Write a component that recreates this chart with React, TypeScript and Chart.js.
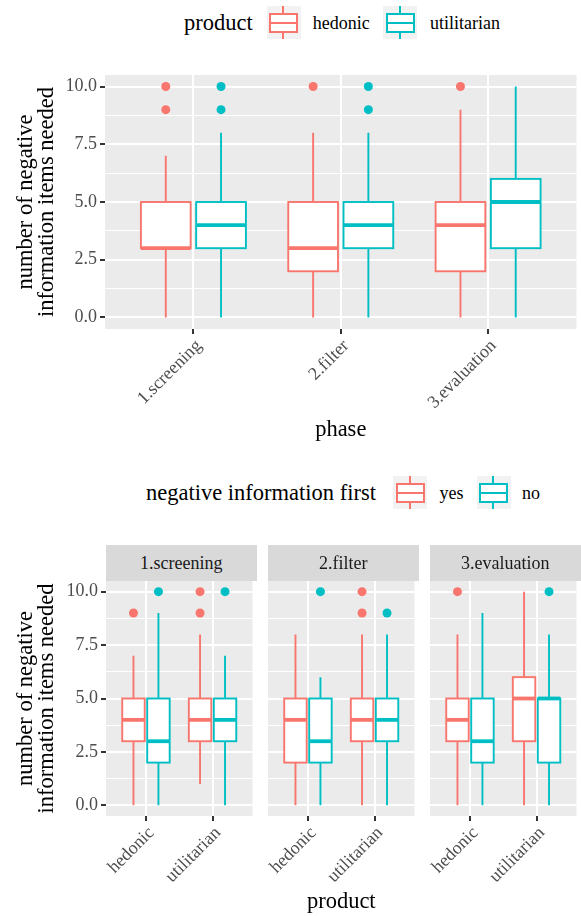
import React, { useEffect, useRef } from "react";
import { Chart, registerables } from "chart.js";

Chart.register(...registerables);

const FONT = "'Liberation Serif', 'Times New Roman', serif";
const RED = "#F8766D";
const TEAL = "#00BFC4";

// ---------- data ----------
const phases = ["1.screening", "2.filter", "3.evaluation"];
const products = ["hedonic", "utilitarian"];
const negFirst = ["yes", "no"];
const yTickValues = [0, 1.25, 2.5, 3.75, 5, 6.25, 7.5, 8.75, 10];
const yTitle = ["number of negative", "information items needed"];

// top chart: [lower whisker, Q1, median, Q3, upper whisker] per phase
const hedonicStats = [
  [0, 3, 3, 5, 7],
  [0, 2, 3, 5, 8],
  [0, 2, 4, 5, 9],
];
const utilitarianStats = [
  [0, 3, 4, 5, 8],
  [0, 3, 4, 5, 8],
  [0, 3, 5, 6, 10],
];
const hedonicOutliers = [[9, 10], [10], [10]];
const utilitarianOutliers = [[9, 10], [9, 10], []];

// bottom chart: per phase -> per product [hedonic, utilitarian]
const yesStats = [
  [[0, 3, 4, 5, 7], [1, 3, 4, 5, 8]],
  [[0, 2, 4, 5, 8], [0, 3, 4, 5, 8]],
  [[0, 3, 4, 5, 8], [0, 3, 5, 6, 10]],
];
const noStats = [
  [[0, 2, 3, 5, 9], [0, 3, 4, 5, 7]],
  [[0, 2, 3, 5, 6], [0, 3, 4, 5, 8]],
  [[0, 2, 3, 5, 9], [0, 2, 5, 5, 8]],
];
const yesOutliers = [
  [[9], [9, 10]],
  [[], [9, 10]],
  [[10], []],
];
const noOutliers = [
  [[10], [10]],
  [[10], [9]],
  [[], [10]],
];

// ---------- helpers ----------
const BOX_W = 0.3375;
const DODGE = 0.1875;

type Box = { x: number; s: number[]; color: string };

function boxPlugin(boxes: Box[]) {
  return {
    id: "boxes",
    beforeDatasetsDraw(chart: any) {
      const { ctx } = chart;
      const x = chart.scales.x;
      const y = chart.scales.y;
      ctx.save();
      boxes.forEach((b) => {
        const cx = x.getPixelForValue(b.x);
        const l = x.getPixelForValue(b.x - BOX_W / 2);
        const r = x.getPixelForValue(b.x + BOX_W / 2);
        const [lo, q1, med, q3, hi] = b.s.map((v) => y.getPixelForValue(v));
        ctx.strokeStyle = b.color;
        ctx.lineWidth = 1.9;
        ctx.beginPath();
        ctx.moveTo(cx, q3);
        ctx.lineTo(cx, hi);
        ctx.moveTo(cx, q1);
        ctx.lineTo(cx, lo);
        ctx.stroke();
        ctx.fillStyle = "#FFFFFF";
        ctx.fillRect(l, q3, r - l, q1 - q3);
        ctx.strokeRect(l, q3, r - l, q1 - q3);
        ctx.lineWidth = 3.8;
        ctx.beginPath();
        ctx.moveTo(l, med);
        ctx.lineTo(r, med);
        ctx.stroke();
      });
      ctx.restore();
    },
  };
}

const bgPlugin = {
  id: "panelBg",
  beforeDraw(chart: any) {
    const { ctx, chartArea: a } = chart;
    ctx.save();
    ctx.fillStyle = "#EBEBEB";
    ctx.fillRect(a.left, a.top, a.right - a.left, a.bottom - a.top);
    ctx.restore();
  },
};

const isMajor = (v: number) => Math.abs(v / 2.5 - Math.round(v / 2.5)) < 1e-6;

function yScale(width: number, showLabels: boolean, title?: string[]) {
  return {
    type: "linear",
    min: -0.5,
    max: 10.5,
    afterBuildTicks: (s: any) => {
      s.ticks = yTickValues.map((v) => ({ value: v }));
    },
    afterFit: (s: any) => {
      s.width = width;
      s.paddingTop = 0;
      s.paddingBottom = 0;
    },
    border: { display: false },
    grid: {
      color: "#FFFFFF",
      lineWidth: (c: any) => (c.tick && isMajor(c.tick.value) ? 2 : 1),
      drawTicks: showLabels,
      tickLength: 5,
      tickWidth: 2,
      tickColor: (c: any) => (c.tick && isMajor(c.tick.value) ? "#333333" : "rgba(0,0,0,0)"),
    },
    ticks: {
      display: showLabels,
      padding: 3,
      color: "#4D4D4D",
      font: { family: FONT, size: 18 },
      callback: (v: number) => (isMajor(v) ? v.toFixed(1) : ""),
    },
    title: title
      ? {
          display: true,
          text: title,
          color: "#000000",
          font: { family: FONT, size: 22.5, lineHeight: 0.9 },
          padding: { top: 16.4, bottom: 0 },
        }
      : { display: false },
  };
}

function xScale(labels: string[], height: number, title?: string, titlePad = 0) {
  return {
    type: "linear",
    bounds: "data",
    min: 0.4,
    max: labels.length + 0.6,
    afterBuildTicks: (s: any) => {
      s.ticks = labels.map((_, i) => ({ value: i + 1 }));
    },
    afterFit: (s: any) => {
      s.height = height;
      s.paddingLeft = 0;
      s.paddingRight = 0;
    },
    border: { display: false },
    grid: {
      color: "#FFFFFF",
      lineWidth: 2,
      tickLength: 5,
      tickWidth: 2,
      tickColor: "#333333",
    },
    ticks: {
      autoSkip: false,
      minRotation: 45,
      maxRotation: 45,
      padding: 1.5,
      labelOffset: 5.5,
      color: "#4D4D4D",
      font: { family: FONT, size: 18 },
      callback: (_v: number, i: number) => labels[i],
    },
    title: title
      ? {
          display: true,
          text: title,
          color: "#000000",
          font: { family: FONT, size: 22.5 },
          padding: { top: 0, bottom: titlePad },
        }
      : { display: false },
  };
}

function points(vals: number[][], base: (i: number) => number) {
  return vals.flatMap((arr, i) => arr.map((v) => ({ x: base(i), y: v })));
}

function scatterSet(label: string, data: { x: number; y: number }[], color: string) {
  return {
    type: "scatter",
    label,
    data,
    backgroundColor: color,
    borderColor: color,
    borderWidth: 0,
    pointRadius: 4.5,
    pointHoverRadius: 4.5,
  };
}

const baseOptions = (padTop: number, padRight: number, scales: any) => ({
  animation: false,
  responsive: false,
  events: [],
  layout: { padding: { top: padTop, right: padRight, left: 0, bottom: 0 } },
  plugins: { legend: { display: false }, tooltip: { enabled: false } },
  scales,
});

function topConfig() {
  const boxes: Box[] = [
    ...hedonicStats.map((s, i) => ({ x: i + 1 - DODGE, s, color: RED })),
    ...utilitarianStats.map((s, i) => ({ x: i + 1 + DODGE, s, color: TEAL })),
  ];
  return {
    type: "scatter",
    data: {
      datasets: [
        scatterSet(products[0], points(hedonicOutliers, (i) => i + 1 - DODGE), RED),
        scatterSet(products[1], points(utilitarianOutliers, (i) => i + 1 + DODGE), TEAL),
      ],
    },
    options: baseOptions(15, 1, {
      x: xScale(phases, 121, "phase", 6.5),
      y: yScale(105, true, yTitle),
    }),
    plugins: [bgPlugin, boxPlugin(boxes)],
  };
}

function facetConfig(p: number, yWidth: number, showY: boolean, showTitle: boolean) {
  const boxes: Box[] = [
    ...yesStats[p].map((s, i) => ({ x: i + 1 - DODGE, s, color: RED })),
    ...noStats[p].map((s, i) => ({ x: i + 1 + DODGE, s, color: TEAL })),
  ];
  return {
    type: "scatter",
    data: {
      datasets: [
        scatterSet(negFirst[0], points(yesOutliers[p], (i) => i + 1 - DODGE), RED),
        scatterSet(negFirst[1], points(noOutliers[p], (i) => i + 1 + DODGE), TEAL),
      ],
    },
    options: baseOptions(11, 0.5, {
      x: xScale(products, 100, showTitle ? "product" : undefined, 0),
      y: yScale(yWidth, showY, showY ? yTitle : undefined),
    }),
    plugins: [bgPlugin, boxPlugin(boxes)],
  };
}

// ---------- components ----------
function ChartCanvas({ left, top, width, height, make }: any) {
  const ref = useRef<HTMLCanvasElement>(null);
  useEffect(() => {
    const chart = new Chart(ref.current as HTMLCanvasElement, make());
    return () => chart.destroy();
  }, []);
  return (
    <canvas
      ref={ref}
      width={width}
      height={height}
      style={{ position: "absolute", left, top, width, height }}
    />
  );
}

function Key({ left, top, color }: { left: number; top: number; color: string }) {
  return (
    <div style={{ position: "absolute", left, top, width: 34, height: 33, background: "#F2F2F2" }}>
      <div style={{ position: "absolute", left: 15.6, top: 0, width: 2, height: 8, background: color }} />
      <div style={{ position: "absolute", left: 15.6, top: 26, width: 2, height: 7, background: color }} />
      <div
        style={{
          position: "absolute",
          left: 2.6,
          top: 7.3,
          width: 29,
          height: 19.4,
          border: `2px solid ${color}`,
          boxSizing: "border-box",
          background: "#FFFFFF",
        }}
      />
      <div style={{ position: "absolute", left: 2.6, top: 16, width: 29, height: 2, background: color }} />
    </div>
  );
}

function Text({ left, top, size, color, children }: any) {
  return (
    <div
      style={{
        position: "absolute",
        left,
        top,
        fontFamily: FONT,
        fontSize: size,
        lineHeight: 1,
        color,
        whiteSpace: "nowrap",
      }}
    >
      {children}
    </div>
  );
}

function Strip({ left, label }: { left: number; label: string }) {
  return (
    <div
      style={{
        position: "absolute",
        left,
        top: 545,
        width: 150.5,
        height: 36,
        background: "#D9D9D9",
        fontFamily: FONT,
        fontSize: 18,
        lineHeight: "36px",
        textAlign: "center",
        color: "#1A1A1A",
      }}
    >
      {label}
    </div>
  );
}

export default function App() {
  return (
    <div style={{ position: "absolute", left: 0, top: 0, width: 581, height: 916, background: "#FFFFFF", overflow: "hidden" }}>
      {/* top legend */}
      <Text left={184} top={11.7} size={22.5} color="#000000">product</Text>
      <Key left={266.7} top={6} color={RED} />
      <Text left={312.7} top={14.2} size={18} color="#000000">{products[0]}</Text>
      <Key left={383.3} top={6} color={TEAL} />
      <Text left={430} top={14.2} size={18} color="#000000">{products[1]}</Text>

      <ChartCanvas left={0} top={60} width={581} height={390} make={topConfig} />

      {/* bottom legend */}
      <Text left={146} top={481.5} size={22.5} color="#000000">negative information first</Text>
      <Key left={393.3} top={476} color={RED} />
      <Text left={439.6} top={484.2} size={18} color="#000000">{negFirst[0]}</Text>
      <Key left={476.7} top={476} color={TEAL} />
      <Text left={522} top={484.2} size={18} color="#000000">{negFirst[1]}</Text>

      <ChartCanvas left={0} top={570} width={257} height={346} make={() => facetConfig(0, 106, true, false)} />
      <ChartCanvas left={258} top={570} width={161} height={346} make={() => facetConfig(1, 10, false, true)} />
      <ChartCanvas left={420} top={570} width={161} height={346} make={() => facetConfig(2, 10, false, false)} />

      <Strip left={106} label={phases[0]} />
      <Strip left={268} label={phases[1]} />
      <Strip left={430} label={phases[2]} />
    </div>
  );
}
